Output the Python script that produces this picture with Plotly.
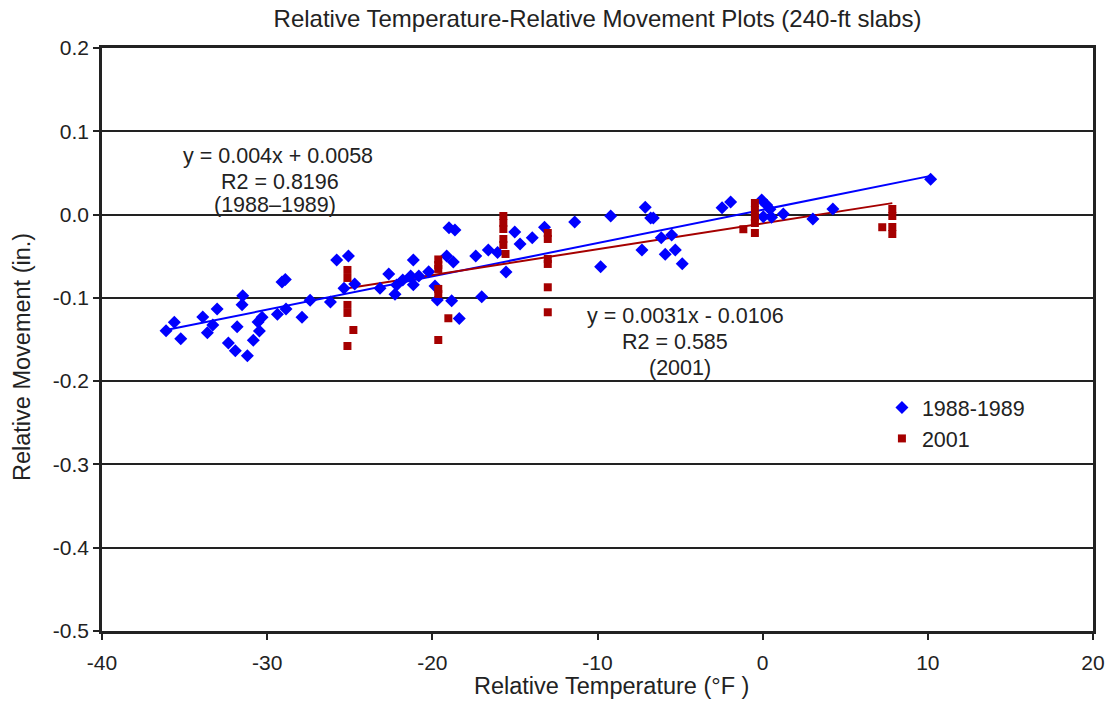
import plotly.graph_objects as go

# ---- data: 1988-1989 (blue diamonds) ----
temp_8889 = [-36.12, -35.62, -35.23, -33.90, -33.62, -33.29, -33.03, -31.82, -31.52, -31.48,
             -32.35, -31.93, -31.20, -30.84, -30.47, -30.55, -30.31, -29.38, -28.86, -29.10,
             -28.90, -27.89, -27.40, -26.17, -25.79, -25.08, -25.35, -24.70,
             -23.17, -22.64, -22.26, -22.16, -21.79, -21.31, -21.15, -21.15, -20.82, -20.22,
             -19.84, -19.70, -19.13, -18.99, -18.63, -18.73, -18.83, -18.37, -17.37, -17.01,
             -16.61, -16.05, -15.54, -15.01, -14.69, -13.95, -13.21, -11.38, -9.81, -9.20,
             -7.31, -7.11, -6.78, -6.62, -6.14, -5.51, -5.90, -5.29, -4.87, -2.46, -1.94,
             -0.06, 0.24, 0.44, 0.04, 0.54, 1.25, 3.04, 4.25, 10.17]
move_8889 = [-0.1394, -0.1292, -0.1490, -0.1229, -0.1418, -0.1326, -0.1134, -0.1346, -0.1082, -0.0974,
             -0.1542, -0.1634, -0.1694, -0.1509, -0.1398, -0.1290, -0.1233, -0.1197, -0.1134, -0.0810,
             -0.0780, -0.1233, -0.1029, -0.1049, -0.0545, -0.0497, -0.0885, -0.0833,
             -0.0885, -0.0713, -0.0957, -0.0845, -0.0785, -0.0737, -0.0545, -0.0842, -0.0737, -0.0686,
             -0.0857, -0.1025, -0.0497, -0.0157, -0.0185, -0.0569, -0.1034, -0.1247, -0.0497, -0.0986,
             -0.0425, -0.0455, -0.0689, -0.0209, -0.0353, -0.0277, -0.0152, -0.0089, -0.0626, -0.0017,
             -0.0425, 0.0088, -0.0041, -0.0041, -0.0277, -0.0245, -0.0477, -0.0425, -0.0590, 0.0083, 0.0151,
             0.0175, 0.0115, 0.0064, -0.0025, -0.0032, 0.0007, -0.0053, 0.0067, 0.0424]

# ---- data: 2001 (red squares) ----
temp_2001 = [-25.14, -25.14, -25.14, -25.14, -25.14, -24.78,
             -19.64, -19.64, -19.64, -19.64, -19.64, -19.64, -19.03,
             -15.70, -15.70, -15.70, -15.70, -15.70, -15.57,
             -13.01, -13.01, -13.01, -13.01, -13.01, -13.01,
             -0.47, -0.47, -0.47, -0.47, -0.47, -1.17,
             7.85, 7.85, 7.85, 7.85, 7.24]
move_2001 = [-0.0665, -0.0761, -0.1085, -0.1181, -0.1578, -0.1386,
             -0.0539, -0.0605, -0.0653, -0.0893, -0.0953, -0.1506, -0.1245,
             -0.0017, -0.0101, -0.0173, -0.0293, -0.0365, -0.0473,
             -0.0221, -0.0293, -0.0533, -0.0593, -0.0873, -0.1173,
             0.0139, 0.0055, -0.0029, -0.0101, -0.0221, -0.0176,
             0.0067, -0.0017, -0.0149, -0.0233, -0.0152]

# linear trend coefficients (as printed on chart)
fit_8889 = (0.004, 0.0058)
fit_2001 = (0.0031, -0.0106)

x_ticks = [-40, -30, -20, -10, 0, 10, 20]
x_tick_labels = ["-40", "-30", "-20", "-10", "0", "10", "20"]
y_ticks = [0.2, 0.1, 0.0, -0.1, -0.2, -0.3, -0.4, -0.5]
y_tick_labels = ["0.2", "0.1", "0.0", "-0.1", "-0.2", "-0.3", "-0.4", "-0.5"]

eq_lines_8889 = ["y = 0.004x + 0.0058", "R2 = 0.8196", "(1988\u20131989)"]
eq_lines_2001 = ["y = 0.0031x - 0.0106", "R2 = 0.585", "(2001)"]

FONT = "Liberation Sans, Arial, sans-serif"
INK = "#222222"
BLUE = "#0000FF"
RED = "#A50000"

fig = go.Figure()

# trend lines
for xs, fit, col in [(temp_8889, fit_8889, BLUE), (temp_2001, fit_2001, RED)]:
    x0, x1 = min(xs), max(xs)
    fig.add_trace(go.Scatter(x=[x0, x1], y=[fit[0] * x0 + fit[1], fit[0] * x1 + fit[1]],
                             mode="lines", line=dict(color=col, width=2),
                             showlegend=False, hoverinfo="skip"))

fig.add_trace(go.Scatter(x=temp_8889, y=move_8889, mode="markers", name="1988-1989",
                         marker=dict(symbol="diamond", size=10, color=BLUE, line=dict(width=0))))
fig.add_trace(go.Scatter(x=temp_2001, y=move_2001, mode="markers", name="2001",
                         marker=dict(symbol="square", size=8, color=RED, line=dict(width=0))))

fig.update_layout(
    width=1110, height=725,
    margin=dict(l=102, r=17, t=48, b=94, autoexpand=False),
    paper_bgcolor="white", plot_bgcolor="white",
    font=dict(family=FONT, size=21, color=INK),
    title=dict(text="Relative Temperature-Relative Movement Plots (240-ft slabs)",
               x=0.5, xref="paper", y=0.975, yanchor="middle", xanchor="center",
               font=dict(size=24, color=INK)),
    legend=dict(x=0.787, y=1 - (387 - 48) / 583, xanchor="left", yanchor="top",
                bgcolor="rgba(0,0,0,0)", font=dict(size=21.5, color=INK),
                traceorder="normal"),
    xaxis=dict(range=[-40, 20], tickvals=x_ticks, ticktext=x_tick_labels,
               showgrid=False, zeroline=False, showline=True, linecolor=INK, linewidth=2.5,
               mirror=True, ticks="outside", ticklen=6, tickcolor=INK, tickwidth=1.5,
               ticklabelstandoff=5, tickfont=dict(size=21, color=INK), automargin=False),
    yaxis=dict(range=[-0.5, 0.2], tickvals=y_ticks, ticktext=y_tick_labels,
               showgrid=True, gridcolor=INK, gridwidth=2, zeroline=False,
               showline=True, linecolor=INK, linewidth=2.5, mirror=True,
               ticks="outside", ticklen=6, tickcolor=INK, tickwidth=1.5,
               tickfont=dict(size=21, color=INK), automargin=False),
    showlegend=True,
)

annots = []
for txt, xx, yy in zip(eq_lines_8889, [-29.34, -29.2, -29.52], [0.0704, 0.0391, 0.0115]):
    annots.append(dict(text=txt, x=xx, y=yy, xref="x", yref="y", showarrow=False,
                       font=dict(size=21.5, color=INK)))
for txt, xx, yy in zip(eq_lines_2001, [-4.70, -5.31, -5.01], [-0.1217, -0.1530, -0.1842]):
    annots.append(dict(text=txt, x=xx, y=yy, xref="x", yref="y", showarrow=False,
                       font=dict(size=21.5, color=INK)))
annots += [
    dict(text="Relative Temperature (\u00b0F )", x=(611 - 102) / 991, y=-(686 - 631) / 583,
         xref="paper", yref="paper", showarrow=False, yanchor="middle",
         font=dict(size=23.5, color=INK)),
    dict(text="Relative Movement (in.)", x=-(102 - 22) / 991, y=1 - (357 - 48) / 583,
         xref="paper", yref="paper", showarrow=False, textangle=-90, xanchor="center",
         yanchor="middle", font=dict(size=23.5, color=INK)),
]
fig.update_layout(annotations=annots)

fig.write_html("out.html")
